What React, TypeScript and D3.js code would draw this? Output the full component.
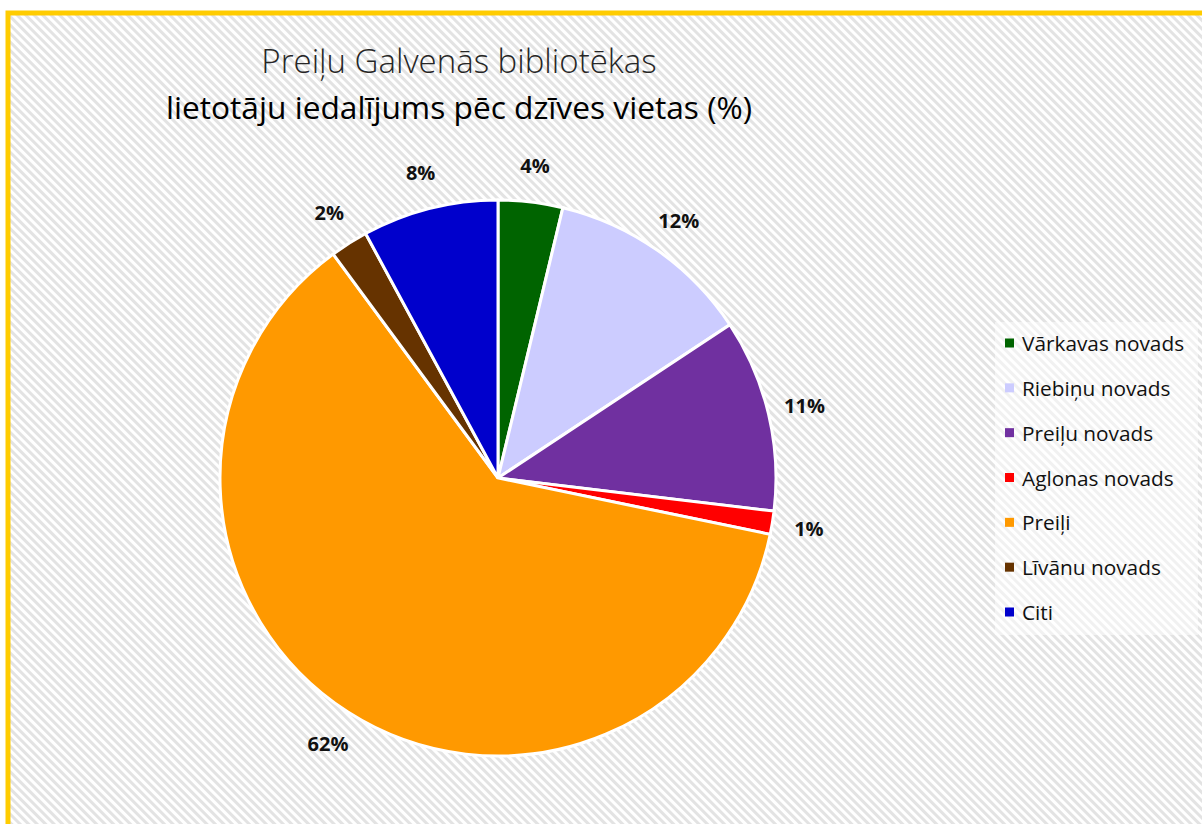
import React from "react";
import * as d3 from "d3";

const categories = [
  "Vārkavas novads",
  "Riebiņu novads",
  "Preiļu novads",
  "Aglonas novads",
  "Preiļi",
  "Līvānu novads",
  "Citi",
];
const values = [3.75, 11.95, 11.2, 1.35, 61.65, 2.2, 7.9];
const labels = ["4%", "12%", "11%", "1%", "62%", "2%", "8%"];
const colors = ["#006400", "#CCCCFF", "#7030A0", "#FF0000", "#FF9900", "#663300", "#0000CC"];
const titleLine1 = "Preiļu Galvenās bibliotēkas";
const titleLine2 = "lietotāju iedalījums pēc dzīves vietas (%)";

const W = 1202;
const H = 824;
const FONT = "'Open Sans', Lato, sans-serif";

export default function App() {
  const cx = 498;
  const cy = 478;
  const r = 278;
  const labelR = 315;

  const data = categories.map((c, i) => ({ name: c, value: values[i], label: labels[i], color: colors[i] }));
  const pie = d3.pie<any>().sort(null).value((d: any) => d.value);
  const arcs = pie(data);
  const arcGen = d3.arc<any>().innerRadius(0).outerRadius(r);
  const labelArc = d3.arc<any>().innerRadius(labelR).outerRadius(labelR);

  const legendY = d3.scalePoint<string>().domain(categories).range([343, 612]);

  return (
    <svg width={W} height={H} style={{ position: "absolute", left: 0, top: 0 }} xmlns="http://www.w3.org/2000/svg">
      <defs>
        <pattern id="hatch" width="6" height="6" patternUnits="userSpaceOnUse" patternTransform="rotate(-45)">
          <rect width="6" height="6" fill="#ffffff" />
          <rect width="3" height="6" fill="#e3e3e3" />
        </pattern>
      </defs>
      <rect x={0} y={0} width={W} height={H} fill="#ffffff" />
      <rect x={8} y={13} width={W} height={H} fill="url(#hatch)" stroke="#FFCC00" strokeWidth={5} />
      <text x={459} y={73} textAnchor="middle" fontFamily={FONT} fontSize={33} fontWeight={300} fill="#262626">
        {titleLine1}
      </text>
      <text x={459} y={119} textAnchor="middle" fontFamily={FONT} fontSize={31.7} fontWeight={400} fill="#000">
        {titleLine2}
      </text>
      <g transform={`translate(${cx},${cy})`}>
        {arcs.map((a, i) => (
          <path key={i} d={arcGen(a) as string} fill={a.data.color} stroke="#ffffff" strokeWidth={3} strokeLinejoin="miter" />
        ))}
        {arcs.map((a, i) => {
          const [x, y] = labelArc.centroid(a);
          return (
            <text key={"l" + i} x={x} y={y} textAnchor="middle" dominantBaseline="central" fontFamily={FONT} fontSize={20} fontWeight={700} fill="#111">
              {a.data.label}
            </text>
          );
        })}
      </g>
      <rect x={995} y={322} width={203} height={313} fill="#ffffff" opacity={0.5} />
      {data.map((d, i) => (
        <g key={"lg" + i} transform={`translate(1005,${legendY(d.name)})`}>
          <rect x={0} y={-4.5} width={9} height={9} fill={d.color} />
          <text x={17} y={0} dominantBaseline="central" fontFamily={FONT} fontSize={20.8} fill="#111">
            {d.name}
          </text>
        </g>
      ))}
    </svg>
  );
}
